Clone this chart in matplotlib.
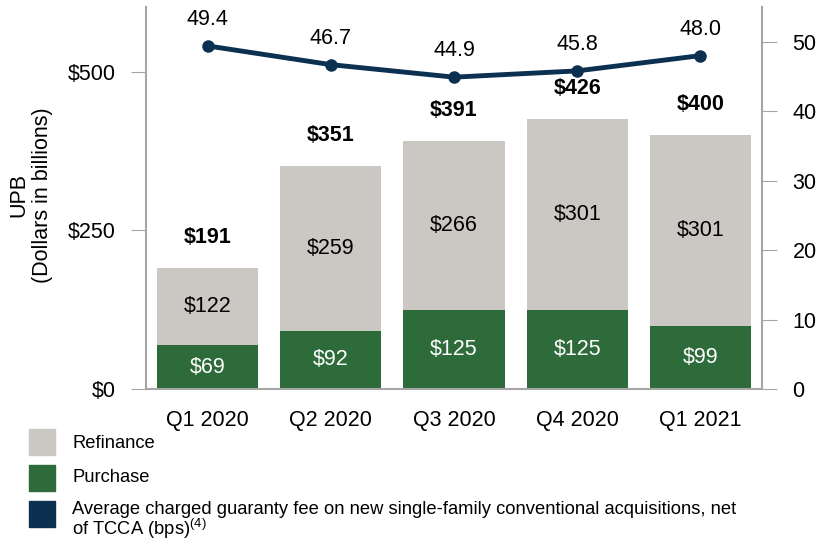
import matplotlib
matplotlib.use("Agg")
import matplotlib.pyplot as plt
from matplotlib.patches import Rectangle

plt.rcParams['font.family'] = ['Liberation Sans', 'DejaVu Sans']
plt.rcParams['mathtext.fontset'] = 'custom'
plt.rcParams['mathtext.rm'] = 'Liberation Sans'

quarters = ["Q1 2020", "Q2 2020", "Q3 2020", "Q4 2020", "Q1 2021"]
purchase = [69, 92, 125, 125, 99]
refinance = [122, 259, 266, 301, 301]
totals = [191, 351, 391, 426, 400]
gfee = [49.4, 46.7, 44.9, 45.8, 48.0]

gray = "#cbc8c3"
green = "#2e6b3a"
navy = "#0b3050"
spine_col = "#a6a6a6"
fs = 15.5

W, H = 817, 541
fig = plt.figure(figsize=(W / 100, H / 100), dpi=100)
ax = fig.add_axes([146/W, 1-389/H, (762-146)/W, (389-7)/H])
x = list(range(len(quarters)))

ax.bar(x, purchase, width=0.82, color=green, zorder=2)
ax.bar(x, refinance, width=0.82, bottom=purchase, color=gray, zorder=2)

for i in x:
    ax.text(i, purchase[i] / 2, f"${purchase[i]}", ha="center", va="center",
            color="white", fontsize=fs)
    ax.text(i, purchase[i] + refinance[i] / 2, f"${refinance[i]}", ha="center",
            va="center", color="black", fontsize=fs)
    ax.text(i, totals[i] + 48, f"${totals[i]}", ha="center", va="center",
            fontsize=fs, fontweight="bold")

ax.set_xlim(-0.5, 4.5)
ax.set_ylim(0, 602)
ax.set_yticks([0, 250, 500])
ax.set_yticklabels(["$0", "$250", "$500"])
ax.set_xticks(x)
ax.set_xticklabels(quarters)
ax.tick_params(axis="y", length=11, color=spine_col, labelsize=fs, pad=11)
ax.tick_params(axis="x", length=0, labelsize=fs, pad=15)
for s in ["top", "right"]:
    ax.spines[s].set_visible(False)
for s in ["left", "bottom"]:
    ax.spines[s].set_color(spine_col)
    ax.spines[s].set_linewidth(1.5)

fig.text(31/W, 1-195/H, "UPB\n(Dollars in billions)", rotation=90,
         ha="center", va="center", multialignment="center", fontsize=fs,
         linespacing=1.15)

ax2 = ax.twinx()
ax2.plot(x, gfee, color=navy, linewidth=3.5, marker="o", markersize=8, zorder=3)
for i in x:
    ax2.text(i, gfee[i] + 3.8, f"{gfee[i]:.1f}", ha="center", va="center",
             fontsize=fs)
ax2.set_ylim(0, 55)
ax2.set_yticks([0, 10, 20, 30, 40, 50])
ax2.tick_params(axis="y", length=11, color=spine_col, labelsize=fs, pad=11)
for s in ["top", "left", "bottom"]:
    ax2.spines[s].set_visible(False)
ax2.spines["right"].set_color(spine_col)
ax2.spines["right"].set_linewidth(1.5)

# legend drawn by hand under the plot
squares = [(gray, 429), (green, 465), (navy, 501)]
for col, ytop in squares:
    fig.patches.append(Rectangle((29/W, 1-(ytop+26)/H), 26/W, 26/H,
                                 transform=fig.transFigure, color=col))
legend_fs = 13.2
fig.text(72/W, 1-443/H, "Refinance", fontsize=legend_fs, va="center")
fig.text(72/W, 1-478/H, "Purchase", fontsize=legend_fs, va="center")
fig.text(72/W, 1-509/H,
         "Average charged guaranty fee on new single-family conventional acquisitions, net",
         fontsize=legend_fs, va="center")
fig.text(72/W, 1-529/H, "of TCCA (bps)$^{(4)}$", fontsize=legend_fs, va="center")

fig.savefig("out.png", dpi=100)
